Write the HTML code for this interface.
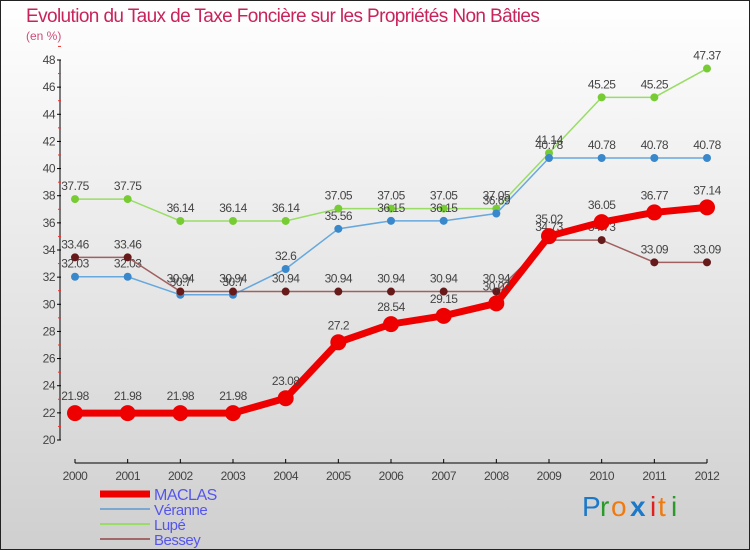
<!DOCTYPE html>
<html><head><meta charset="utf-8"><style>
body{margin:0;width:750px;height:550px;overflow:hidden;font-family:"Liberation Sans",sans-serif}
svg{display:block}
</style></head><body>
<svg width="750" height="550" xmlns="http://www.w3.org/2000/svg">
<defs><linearGradient id="bg" x1="0" y1="0" x2="0" y2="1"><stop offset="0" stop-color="#ffffff"/><stop offset="1" stop-color="#cfcfcf"/></linearGradient></defs>
<rect x="0.5" y="0.5" width="749" height="549" fill="url(#bg)" stroke="#222"/>
<text x="26" y="22" font-size="19" fill="#c8245a" style="letter-spacing:-0.6px">Evolution du Taux de Taxe Foncière sur les Propriétés Non Bâties</text>
<text x="26" y="40" font-size="12" fill="#d04c7a">(en %)</text>
<g id="axes"></g>
<g id="series"></g>
<g id="legend"></g>
<g font-size="28" font-family="Liberation Sans">
<text x="582" y="516" fill="#1c78c8">P</text><text x="600" y="516" fill="#2a9a2a">r</text><text x="611" y="516" fill="#f07a10">o</text><text x="630" y="516" fill="#1c78c8" font-weight="bold">x</text><text x="650" y="516" fill="#e02020">i</text><text x="658" y="516" fill="#f07a10">t</text><text x="671" y="516" fill="#2a9a2a">i</text>
</g>
</svg>
<script>
const years=[2000,2001,2002,2003,2004,2005,2006,2007,2008,2009,2010,2011,2012];
const maclas=[21.98,21.98,21.98,21.98,23.08,27.2,28.54,29.15,30.07,35.02,36.05,36.77,37.14];
const veranne=[32.03,32.03,30.7,30.7,32.6,35.56,36.15,36.15,36.69,40.78,40.78,40.78,40.78];
const lupe=[37.75,37.75,36.14,36.14,36.14,37.05,37.05,37.05,37.05,41.14,45.25,45.25,47.37];
const bessey=[33.46,33.46,30.94,30.94,30.94,30.94,30.94,30.94,30.94,34.73,34.73,33.09,33.09];
const yTicks=[20,22,24,26,28,30,32,34,36,38,40,42,44,46,48];
const NS="http://www.w3.org/2000/svg";
const X=i=>75+i*(707-75)/12;
const Y=v=>440-(v-20)*(380/28);
function mk(t,a,p){const e=document.createElementNS(NS,t);for(const k in a)e.setAttribute(k,a[k]);p.appendChild(e);return e;}
const ax=document.getElementById('axes');
let l=mk('line',{x1:60,y1:Y(48),x2:60,y2:Y(20),stroke:'#000'},ax);


yTicks.forEach(v=>{
 mk('line',{x1:57,y1:Y(v),x2:61,y2:Y(v),stroke:'#000'},ax);
 mk('line',{x1:58,y1:Y(v+1),x2:61,y2:Y(v+1),stroke:'#e33'},ax);
 const t=mk('text',{x:55,y:Y(v)+4,'font-size':12,'text-anchor':'end',fill:'#444','letter-spacing':'-0.5'},ax);t.textContent=v;
 
 
});
l=mk('line',{x1:75,y1:463,x2:707,y2:463,stroke:'#000'},ax);


years.forEach((y,i)=>{
 mk('line',{x1:X(i),y1:459,x2:X(i),y2:463,stroke:'#000'},ax);
 const t=mk('text',{x:X(i),y:480,'font-size':12,'text-anchor':'middle',fill:'#444','letter-spacing':'-0.5'},ax);t.textContent=y;
 
 
});
const se=document.getElementById('series');
function draw(vals,lc,pc,w,r,name){
 const g=mk('g',{},se);
 
 
 mk('polyline',{points:vals.map((v,i)=>X(i)+','+Y(v)).join(' '),fill:'none',stroke:lc,'stroke-width':w},g);
 vals.forEach((v,i)=>{
  const c=mk('circle',{cx:X(i),cy:Y(v),r:r,fill:pc},g);
  
  
  const t=mk('text',{x:X(i),y:Y(v)-(r+5),'font-size':12,'text-anchor':'middle',fill:'#444','letter-spacing':'-0.5'},g);t.textContent=v;
  
  
 });
}
draw(lupe,'#99dd66','#77cc33',1.5,4,'lupe');
draw(veranne,'#66a8dd','#3a88cc',1.5,4,'veranne');
draw(bessey,'#a06060','#661a1a',1.5,4,'bessey');
draw(maclas,'#ee0000','#ee0000',7,8,'maclas');
const lg=document.getElementById('legend');
const items=[['MACLAS','#ee0000',7],['Véranne','#7aa8d0',2],['Lupé','#99dd66',2],['Bessey','#a06868',2]];
items.forEach((it,i)=>{
 const y=494+i*15;
 const ln=mk('line',{x1:100,y1:y,x2:150,y2:y,stroke:it[1],'stroke-width':it[2]},lg);
 
 
 const t=mk('text',{x:154,y:y+6,'font-size':i==0?16:15,fill:'#5555ee','letter-spacing':'-0.5'},lg);t.textContent=it[0];
 
 
});
</script>
</body></html>
